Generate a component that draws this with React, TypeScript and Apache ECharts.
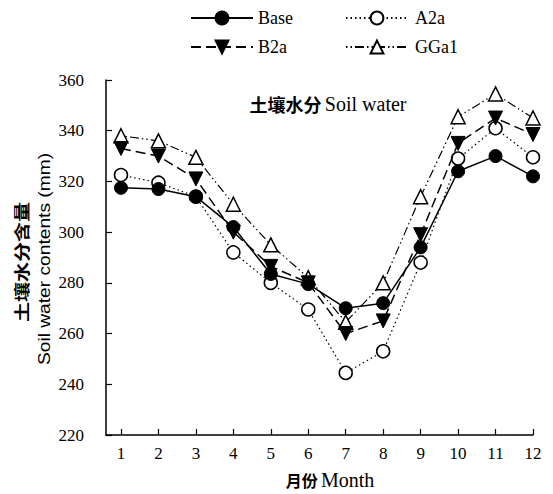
import React, { useEffect, useRef } from "react";
import * as echarts from "echarts";

const months = [1, 2, 3, 4, 5, 6, 7, 8, 9, 10, 11, 12];
const baseVals = [317.5, 317, 314, 302, 283.5, 279.5, 270, 272, 294, 324, 330, 322];
const a2aVals = [322.5, 319.5, 314, 292, 280, 269.5, 244.5, 253, 288, 329, 341, 329.5];
const b2aVals = [333, 330, 321, 300, 286.5, 280, 260, 265, 299, 335, 345, 338.5];
const gga1Vals = [338, 336, 329.5, 311, 295, 282, 264.5, 280, 314, 345.5, 354.5, 345];
const yTicks = [220, 240, 260, 280, 300, 320, 340, 360];

const SERIF = "'Liberation Serif', 'Times New Roman', serif";
const SANS = "'Liberation Sans', Arial, sans-serif";
const CJK = "'Noto Sans CJK SC', sans-serif";

function pairs(vals: number[]) {
  return months.map((m, i) => [m, vals[i]]);
}

export default function App() {
  const ref = useRef<HTMLDivElement>(null);
  useEffect(() => {
    if (!ref.current) return;
    const chart = echarts.init(ref.current, null, { renderer: "svg" });
    const legendCommon = {
      itemWidth: 62,
      itemHeight: 16,
      textStyle: { color: "#000", fontSize: 18, fontFamily: SERIF },
      selectedMode: false,
    };
    chart.setOption({
      animation: false,
      backgroundColor: "#fff",
      grid: { left: 106, right: 20, top: 80, bottom: 59 },
      legend: [
        { ...legendCommon, data: ["Base"], left: 185, top: 4 },
        { ...legendCommon, data: ["A2a"], left: 340, top: 4, textStyle: { ...legendCommon.textStyle, padding: [0, 0, 0, 2] } },
        { ...legendCommon, data: ["B2a"], left: 185, top: 33 },
        { ...legendCommon, data: ["GGa1"], left: 340, top: 33, textStyle: { ...legendCommon.textStyle, padding: [0, 0, 0, 2] } },
      ],
      xAxis: {
        type: "value",
        min: 0.6,
        max: 12,
        axisLine: { show: true, lineStyle: { color: "#000", width: 1.5 } },
        axisTick: { show: true, inside: true, length: 6, customValues: months, lineStyle: { color: "#000", width: 1.2 } },
        axisLabel: { customValues: months, color: "#000", fontSize: 17, fontFamily: SERIF, margin: 10 },
        splitLine: { show: false },
      },
      yAxis: {
        type: "value",
        min: 220,
        max: 360,
        interval: 20,
        axisLine: { show: true, lineStyle: { color: "#000", width: 1.5 } },
        axisTick: { show: true, inside: true, length: 6, lineStyle: { color: "#000", width: 1.2 } },
        axisLabel: { color: "#000", fontSize: 17, fontFamily: SERIF, margin: 22, customValues: yTicks },
        splitLine: { show: false },
      },
      graphic: [
        {
          type: "text",
          x: 328,
          y: 104,
          style: {
            text: "{c|土壤水分} {e|Soil water}",
            fill: "#000",
            textAlign: "center",
            textVerticalAlign: "middle",
            rich: {
              c: { fontFamily: CJK, fontWeight: "bold", fontSize: 18, fill: "#000" },
              e: { fontFamily: SERIF, fontSize: 20, fill: "#000" },
            },
          },
        },
        {
          type: "text",
          x: 330,
          y: 480,
          style: {
            text: "{c|月份} {e|Month}",
            fill: "#000",
            textAlign: "center",
            textVerticalAlign: "middle",
            rich: {
              c: { fontFamily: CJK, fontWeight: "bold", fontSize: 16, fill: "#000" },
              e: { fontFamily: SERIF, fontSize: 20, fill: "#000" },
            },
          },
        },
        {
          type: "text",
          x: 21,
          y: 262,
          rotation: Math.PI / 2,
          scaleX: 1.25,
          style: {
            text: "土壤水分含量",
            fill: "#000",
            font: `bold 16px ${CJK}`,
            textAlign: "center",
            textVerticalAlign: "middle",
          },
        },
        {
          type: "text",
          x: 45,
          y: 259,
          rotation: Math.PI / 2,
          scaleX: 1.2,
          style: {
            text: "Soil water contents (mm)",
            fill: "#000",
            font: `16px ${SANS}`,
            textAlign: "center",
            textVerticalAlign: "middle",
          },
        },
      ],
      series: [
        {
          name: "A2a",
          type: "line",
          data: pairs(a2aVals),
          symbol: "circle",
          symbolSize: 13,
          lineStyle: { color: "#000", width: 1.2, type: [1.5, 3] },
          itemStyle: { color: "#fff", borderColor: "#000", borderWidth: 1.5 },
          z: 2,
        },
        {
          name: "GGa1",
          type: "line",
          data: pairs(gga1Vals),
          symbol: "triangle",
          symbolSize: 14,
          lineStyle: { color: "#000", width: 1.2, type: [1.5, 3, 1.5, 3, 9, 3] },
          itemStyle: { color: "#fff", borderColor: "#000", borderWidth: 1.5 },
          z: 3,
        },
        {
          name: "B2a",
          type: "line",
          data: pairs(b2aVals),
          symbol: "triangle",
          symbolRotate: 180,
          symbolSize: 14,
          lineStyle: { color: "#000", width: 1.5, type: [10, 5] },
          itemStyle: { color: "#000", borderColor: "#000", borderWidth: 1 },
          z: 4,
        },
        {
          name: "Base",
          type: "line",
          data: pairs(baseVals),
          symbol: "circle",
          symbolSize: 13,
          lineStyle: { color: "#000", width: 1.5, type: "solid" },
          itemStyle: { color: "#000", borderColor: "#000", borderWidth: 1 },
          z: 5,
        },
      ],
    });
    return () => chart.dispose();
  }, []);
  return <div ref={ref} style={{ position: "absolute", left: 0, top: 0, width: 553, height: 494 }} />;
}
